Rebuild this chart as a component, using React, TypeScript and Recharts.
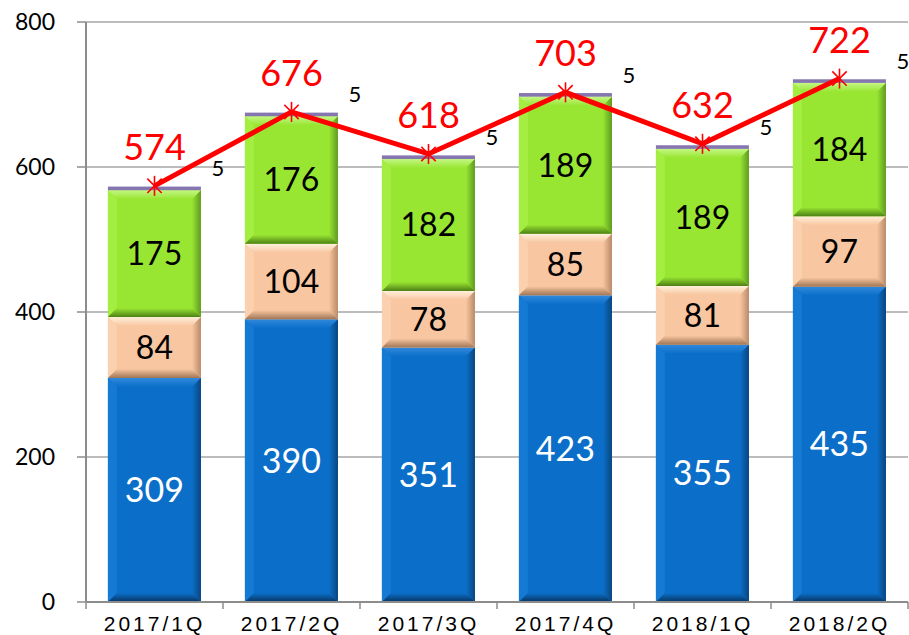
import React from "react";
import { ComposedChart, Bar, Line, XAxis, YAxis, CartesianGrid, LabelList } from "recharts";

// quarterly breakdown (stacked) plus total line
const quarters = ["2017/1Q", "2017/2Q", "2017/3Q", "2017/4Q", "2018/1Q", "2018/2Q"];
const blueValues = [309, 390, 351, 423, 355, 435];
const tanValues = [84, 104, 78, 85, 81, 97];
const greenValues = [175, 176, 182, 189, 189, 184];
const purpleValues = [5, 5, 5, 5, 5, 5];
const totals = [574, 676, 618, 703, 632, 722];
const yTicks = [0, 200, 400, 600, 800];

const data = quarters.map((q, i) => ({
  quarter: q,
  blue: blueValues[i],
  tan: tanValues[i],
  green: greenValues[i],
  purple: purpleValues[i],
  total: totals[i],
}));

type Palette = { id: string; main: string; top: string; left: string; right: string; bottom: string };

const BLUE: Palette = { id: "bl", main: "#0b6fc9", top: "#3089dc", left: "#157ad4", right: "#0a4580", bottom: "#07345f" };
const TAN: Palette = { id: "tn", main: "#f8c6a0", top: "#fff0dc", left: "#fbd0ae", right: "#b98a68", bottom: "#a07656" };
const GREEN: Palette = { id: "gr", main: "#98e632", top: "#c4f784", left: "#a4ee42", right: "#5f9a20", bottom: "#4e8016" };
const PURPLE: Palette = { id: "pu", main: "#8676b0", top: "#8676b0", left: "#8676b0", right: "#8676b0", bottom: "#8676b0" };

function PaletteDefs({ p }: { p: Palette }) {
  return (
    <>
      <linearGradient id={`${p.id}-top`} x1="0" y1="0" x2="0" y2="1">
        <stop offset="0%" stopColor={p.top} />
        <stop offset="100%" stopColor={p.main} />
      </linearGradient>
      <linearGradient id={`${p.id}-right`} x1="0" y1="0" x2="1" y2="0">
        <stop offset="0%" stopColor={p.main} />
        <stop offset="100%" stopColor={p.right} />
      </linearGradient>
      <linearGradient id={`${p.id}-bottom`} x1="0" y1="0" x2="0" y2="1">
        <stop offset="0%" stopColor={p.main} />
        <stop offset="100%" stopColor={p.bottom} />
      </linearGradient>
    </>
  );
}

/**
 * Bar segment with a bevelled look, like the office chart style
 */
function BevelBar(props: any) {
  const { x, y, width: w, height: h, palette } = props;
  if (!w || !h || h <= 0) return null;
  const b = Math.min(9, h / 2.6, w / 4);
  if (b < 2) {
    return <rect x={x} y={y} width={w} height={h} fill={palette.main} />;
  }
  const pts = (arr: number[][]) => arr.map((p) => p.join(",")).join(" ");
  return (
    <g>
      <rect x={x} y={y} width={w} height={h} fill={palette.main} />
      <polygon points={pts([[x, y], [x + w, y], [x + w - b, y + b], [x + b, y + b]])} fill={`url(#${palette.id}-top)`} />
      <polygon points={pts([[x, y], [x + b, y + b], [x + b, y + h - b], [x, y + h]])} fill={palette.left} />
      <polygon points={pts([[x + w, y], [x + w, y + h], [x + w - b, y + h - b], [x + w - b, y + b]])} fill={`url(#${palette.id}-right)`} />
      <polygon points={pts([[x, y + h], [x + b, y + h - b], [x + w - b, y + h - b], [x + w, y + h]])} fill={`url(#${palette.id}-bottom)`} />
    </g>
  );
}

function StarDot({ cx, cy }: { cx?: number; cy?: number }) {
  if (cx == null || cy == null) return null;
  const r = 10;
  const d = r * 0.72;
  return (
    <g stroke="#ff0000" strokeWidth={1.6}>
      <line x1={cx} y1={cy - r} x2={cx} y2={cy + r} />
      <line x1={cx - d} y1={cy - d} x2={cx + d} y2={cy + d} />
      <line x1={cx - d} y1={cy + d} x2={cx + d} y2={cy - d} />
    </g>
  );
}

function QuarterTick(props: any) {
  const { x, y, payload, index, visibleTicksCount } = props;
  const half = payload?.offset || 68.5;
  return (
    <g>
      <line x1={x - half} x2={x - half} y1={y} y2={y + 7} stroke="#8c8c8c" strokeWidth={1.5} />
      {index === visibleTicksCount - 1 && (
        <line x1={x + half} x2={x + half} y1={y} y2={y + 7} stroke="#8c8c8c" strokeWidth={1.5} />
      )}
      <text
        x={x}
        y={y + 21}
        textAnchor="middle"
        dominantBaseline="central"
        fontFamily="Liberation Sans, Arial, sans-serif"
        fontSize={21}
        letterSpacing={3}
        fill="#000"
      >
        {payload.value}
      </text>
    </g>
  );
}

const labelFont = "Lato, 'Open Sans', sans-serif";

export default function App() {
  return (
    <div style={{ position: "absolute", left: 0, top: 0, width: 909, height: 635, background: "#fff" }}>
      <ComposedChart
        width={909}
        height={635}
        data={data}
        margin={{ top: 22, right: 1, left: 0, bottom: 0 }}
        barCategoryGap="16%"
      >
        <defs>
          <PaletteDefs p={BLUE} />
          <PaletteDefs p={TAN} />
          <PaletteDefs p={GREEN} />
        </defs>
        <CartesianGrid vertical={false} stroke="#a6a6a6" strokeWidth={1.5} />
        <XAxis
          dataKey="quarter"
          height={33}
          tickLine={false}
          tickSize={0}
          tickMargin={0}
          axisLine={{ stroke: "#8c8c8c", strokeWidth: 2 }}
          tick={<QuarterTick />}
          interval={0}
        />
        <YAxis
          width={86}
          domain={[0, 800]}
          ticks={yTicks}
          tickSize={9}
          tickMargin={22}
          tickLine={{ stroke: "#8c8c8c", strokeWidth: 1.5 }}
          axisLine={{ stroke: "#8c8c8c", strokeWidth: 2 }}
          tick={{ fill: "#000", fontSize: 23, fontFamily: labelFont }}
        />
        <Bar dataKey="blue" stackId="a" isAnimationActive={false} shape={(p: any) => <BevelBar {...p} palette={BLUE} />}>
          <LabelList dataKey="blue" position="center" fill="#fff" fontSize={34} fontFamily={labelFont} />
        </Bar>
        <Bar dataKey="tan" stackId="a" isAnimationActive={false} shape={(p: any) => <BevelBar {...p} palette={TAN} />}>
          <LabelList dataKey="tan" position="center" fill="#000" fontSize={32} fontFamily={labelFont} />
        </Bar>
        <Bar dataKey="green" stackId="a" isAnimationActive={false} shape={(p: any) => <BevelBar {...p} palette={GREEN} />}>
          <LabelList dataKey="green" position="center" fill="#000" fontSize={32} fontFamily={labelFont} />
        </Bar>
        <Bar dataKey="purple" stackId="a" isAnimationActive={false} shape={(p: any) => <BevelBar {...p} palette={PURPLE} />}>
          <LabelList
            dataKey="purple"
            content={(p: any) => (
              <text
                x={p.x + p.width + 17}
                y={p.y - 19}
                textAnchor="middle"
                dominantBaseline="central"
                fill="#000"
                fontSize={22}
                fontFamily={labelFont}
              >
                {p.value}
              </text>
            )}
          />
        </Bar>
        <Line
          dataKey="total"
          stroke="#ff0000"
          strokeWidth={5}
          isAnimationActive={false}
          dot={<StarDot />}
          activeDot={false}
        >
          <LabelList
            dataKey="total"
            content={(p: any) => (
              <text
                x={p.x}
                y={p.y - 40}
                textAnchor="middle"
                dominantBaseline="central"
                fill="#ff0000"
                fontSize={36}
                fontFamily={labelFont}
              >
                {p.value}
              </text>
            )}
          />
        </Line>
      </ComposedChart>
    </div>
  );
}
